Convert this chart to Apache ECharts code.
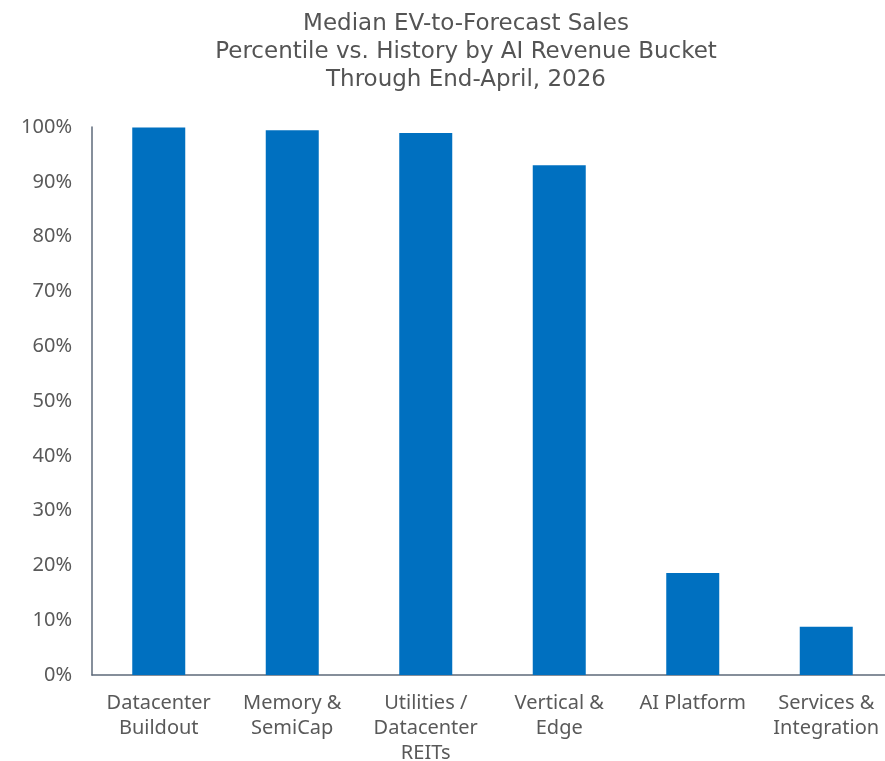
<!DOCTYPE html>
<html><head><meta charset="utf-8">
<script src="https://cdn.jsdelivr.net/npm/echarts@6/dist/echarts.min.js"></script>
<style>html,body{margin:0;padding:0;background:#fff}#c{width:885px;height:761px}</style>
</head><body><div id="c"></div>
<script>
const categories = ["Datacenter\nBuildout", "Memory &\nSemiCap", "Utilities /\nDatacenter\nREITs", "Vertical &\nEdge", "AI Platform", "Services &\nIntegration"];
const values = [99.9, 99.4, 98.9, 93.0, 18.6, 8.8];
const titleText = "Median EV-to-Forecast Sales\nPercentile vs. History by AI Revenue Bucket\nThrough End-April, 2026";

const chart = echarts.init(document.getElementById('c'));
const font = "Noto Sans";
chart.setOption({
  animation: false,
  title: {
    text: titleText,
    left: 461, top: 5, textAlign: 'center',
    textStyle: { fontFamily: "DejaVu Sans", fontSize: 23, fontWeight: 'normal', color: '#545454', lineHeight: 28 }
  },
  grid: { left: 92, top: 127, width: 801, height: 548, containLabel: false, outerBoundsMode: 'none' },
  xAxis: {
    type: 'category', data: categories,
    axisLine: { lineStyle: { color: '#5e6a7a', width: 1.5 } },
    axisTick: { show: false },
    axisLabel: { fontFamily: font, fontSize: 20, color: '#595959', lineHeight: 25, margin: 16, interval: 0 }
  },
  yAxis: {
    type: 'value', min: 0, max: 100, interval: 10,
    axisLine: { show: true, lineStyle: { color: '#5e6a7a', width: 1.5 } },
    axisTick: { show: false },
    splitLine: { show: false },
    axisLabel: { fontFamily: font, fontSize: 20, color: '#595959', margin: 20, formatter: '{value}%' }
  },
  series: [{
    type: 'bar', data: values, barWidth: 53,
    itemStyle: { color: '#0070C0' }
  }]
});
</script></body></html>
